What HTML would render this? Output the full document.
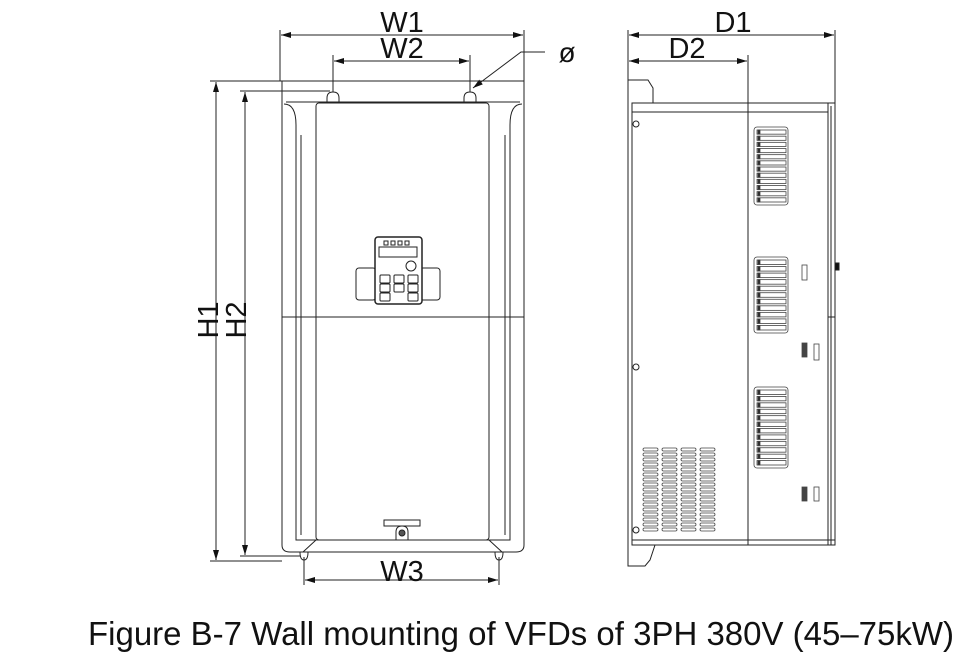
<!DOCTYPE html>
<html><head><meta charset="utf-8"><style>
html,body{margin:0;padding:0;background:#fff;width:975px;height:667px;overflow:hidden}
svg{display:block}
text{font-family:"Liberation Sans",Arial,sans-serif;fill:#111}
</style></head><body>
<svg id="s" width="975" height="667" viewBox="0 0 975 667" xmlns="http://www.w3.org/2000/svg">
<defs>
<marker id="a" viewBox="0 0 10 6" refX="10" refY="3" markerWidth="16" markerHeight="6" markerUnits="userSpaceOnUse" orient="auto-start-reverse"><path d="M0,0L10,3L0,6z" fill="#111"/></marker>
</defs>
<g stroke="#222" stroke-width="1" fill="none">
<line x1="280" y1="30" x2="280" y2="81"/><line x1="524" y1="30" x2="524" y2="81"/>
<line x1="281" y1="35" x2="523" y2="35" marker-start="url(#a)" marker-end="url(#a)"/>
<line x1="333" y1="55" x2="333" y2="92"/><line x1="470" y1="55" x2="470" y2="92"/>
<line x1="334" y1="61" x2="469" y2="61" marker-start="url(#a)" marker-end="url(#a)"/>
<polyline points="545,52 521,52 473,88" marker-end="url(#a)"/>
<line x1="210" y1="81" x2="282" y2="81"/><line x1="240" y1="91" x2="330" y2="91"/>
<line x1="216" y1="82" x2="216" y2="560" marker-start="url(#a)" marker-end="url(#a)"/>
<line x1="245" y1="92" x2="245" y2="555" marker-start="url(#a)" marker-end="url(#a)"/>
<line x1="210" y1="561" x2="282" y2="561"/><line x1="240" y1="556" x2="300" y2="556"/>
<path d="M282,81 V545 Q282,552 290,552 H516 Q524,552 524,545 V81"/>
<line x1="282" y1="81" x2="524" y2="81"/>
<path d="M284,104 Q296,104 296,125 V540 H510 V125 Q510,104 522,104" />
<line x1="286" y1="102" x2="520" y2="102"/>
<path d="M301,135 V535 M505,135 V535"/>
<rect x="316" y="103" width="173" height="437" rx="3"/>
<line x1="282" y1="317" x2="524" y2="317"/>
<path d="M327,103 V98 Q327,92 333,92 Q339,92 339,98 V103"/>
<path d="M464,103 V98 Q464,92 470,92 Q476,92 476,98 V103"/>
<path d="M316,540 L303,552 M489,540 L502,552"/>
<path d="M300,552 Q300,560 304,560 Q308,560 308,552 M495,552 Q495,560 499,560 Q503,560 503,552"/>
<rect x="384" y="520" width="36" height="6"/>
<path d="M396,540 V532 Q396,526 402,526 Q408,526 408,532 V540"/>
<circle cx="402" cy="533" r="3" fill="#555"/>
<line x1="304" y1="557" x2="304" y2="585"/><line x1="499" y1="557" x2="499" y2="585"/>
<line x1="305" y1="580" x2="498" y2="580" marker-start="url(#a)" marker-end="url(#a)"/>
<rect x="356" y="268" width="20" height="32" rx="3"/><rect x="420" y="268" width="20" height="32" rx="3"/>
<rect x="375" y="237" width="47" height="67" rx="3" fill="#fff" stroke-width="1.5"/>
<rect x="379" y="247" width="38" height="10"/>
<circle cx="411" cy="266" r="5"/>
<g id="keys"></g>
<line x1="628" y1="30" x2="628" y2="80"/><line x1="835" y1="30" x2="835" y2="103"/>
<line x1="629" y1="35" x2="834" y2="35" marker-start="url(#a)" marker-end="url(#a)"/>
<line x1="748" y1="55" x2="748" y2="103"/>
<line x1="629" y1="61" x2="747" y2="61" marker-start="url(#a)" marker-end="url(#a)"/>
<path d="M628,80 H648 L653,88 V103 H632 V545 H655 L650,560 L645,566 H628 Z"/>
<path d="M632,103 H835 V545 H632"/>
<line x1="632" y1="112" x2="828" y2="112"/>
<line x1="632" y1="540" x2="835" y2="540"/>
<line x1="748" y1="103" x2="748" y2="545"/>
<line x1="828" y1="103" x2="828" y2="545"/>
<line x1="831" y1="106" x2="831" y2="545"/>
<line x1="828" y1="317" x2="835" y2="317"/>
<rect x="835" y="263" width="4" height="7" fill="#111"/>
<circle cx="636" cy="124" r="3"/><circle cx="636" cy="367" r="3"/><circle cx="636" cy="530" r="3"/>
<g id="side" stroke="#444" stroke-width="0.8"></g>
</g>
<text x="402" y="32" font-size="29" text-anchor="middle">W1</text>
<text x="402" y="58" font-size="29" text-anchor="middle">W2</text>
<text x="567" y="62" font-size="28" text-anchor="middle">ø</text>
<text x="402" y="581" font-size="29" text-anchor="middle">W3</text>
<text x="733" y="32" font-size="29" text-anchor="middle">D1</text>
<text x="687" y="58" font-size="29" text-anchor="middle">D2</text>
<text transform="translate(218,320) rotate(-90)" font-size="29" text-anchor="middle">H1</text>
<text transform="translate(246,320) rotate(-90)" font-size="29" text-anchor="middle">H2</text>
<text x="521" y="645" font-size="33" text-anchor="middle" textLength="866" lengthAdjust="spacingAndGlyphs">Figure B-7 Wall mounting of VFDs of 3PH 380V (45–75kW)</text>
</svg>
<script>
var ns="http://www.w3.org/2000/svg";
function r(g,x,y,w,h,rx,f){var e=document.createElementNS(ns,"rect");e.setAttribute("x",x);e.setAttribute("y",y);e.setAttribute("width",w);e.setAttribute("height",h);if(rx)e.setAttribute("rx",rx);if(f)e.setAttribute("fill",f);g.appendChild(e);}
var k=document.getElementById("keys");
[380,394,408].forEach(function(x){for(var j=0;j<3;j++){if(x==394&&j==2)continue;r(k,x,275+j*9,10,8,1);}});
for(var i=0;i<4;i++)r(k,384+i*7,241,4,4);
var s=document.getElementById("side");
for(var c=0;c<4;c++)for(var j=0;j<17;j++)r(s,643+c*19,448+j*5,15,3,1.5);
[[127,205,12],[257,333,11],[387,468,12]].forEach(function(g){r(s,754,g[0],34,g[1]-g[0],3);var n=g[2],h=(g[1]-g[0]-4)/n;for(var j=0;j<n;j++){r(s,757,g[0]+3+j*h,29,h-2);r(s,758,g[0]+3+j*h,2,h-2,0,"#222");}});
r(s,802,265,5,15);r(s,802,343,5,14,0,"#444");r(s,802,487,5,14,0,"#444");
r(s,814,344,5,16);r(s,814,487,5,14);
</script>
</body></html>
